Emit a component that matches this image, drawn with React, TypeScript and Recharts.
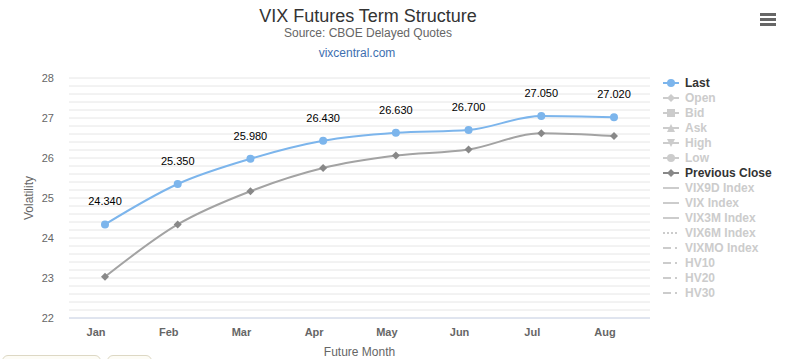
import * as React from "react";
import {
  LineChart,
  Line,
  XAxis,
  YAxis,
  CartesianGrid,
  LabelList,
  Label,
} from "recharts";

const months = ["Jan", "Feb", "Mar", "Apr", "May", "Jun", "Jul", "Aug"];
const lastValues = [24.34, 25.35, 25.98, 26.43, 26.63, 26.7, 27.05, 27.02];
const prevCloseValues = [23.03, 24.34, 25.17, 25.75, 26.06, 26.21, 26.62, 26.55];
const yTicks = [
  22, 22.2, 22.4, 22.6, 22.8, 23, 23.2, 23.4, 23.6, 23.8, 24, 24.2, 24.4, 24.6,
  24.8, 25, 25.2, 25.4, 25.6, 25.8, 26, 26.2, 26.4, 26.6, 26.8, 27, 27.2, 27.4,
  27.6, 27.8, 28,
];

type LegendItem = {
  name: string;
  active: boolean;
  symbol: "circle" | "diamond" | "square" | "triangle" | "triangleDown" | "line" | "dot" | "dashdot";
};

const legendItems: LegendItem[] = [
  { name: "Last", active: true, symbol: "circle" },
  { name: "Open", active: false, symbol: "diamond" },
  { name: "Bid", active: false, symbol: "square" },
  { name: "Ask", active: false, symbol: "triangle" },
  { name: "High", active: false, symbol: "triangleDown" },
  { name: "Low", active: false, symbol: "circle" },
  { name: "Previous Close", active: true, symbol: "diamond" },
  { name: "VIX9D Index", active: false, symbol: "line" },
  { name: "VIX Index", active: false, symbol: "line" },
  { name: "VIX3M Index", active: false, symbol: "line" },
  { name: "VIX6M Index", active: false, symbol: "dot" },
  { name: "VIXMO Index", active: false, symbol: "dashdot" },
  { name: "HV10", active: false, symbol: "dashdot" },
  { name: "HV20", active: false, symbol: "dashdot" },
  { name: "HV30", active: false, symbol: "dashdot" },
];

const chartData = months.map((month, i) => ({
  month,
  last: lastValues[i],
  prevClose: prevCloseValues[i],
}));

const FONT = '"Liberation Sans", Arial, Helvetica, sans-serif';
const LAST_COLOR = "#7cb5ec";
const PREV_LINE = "#a3a3a3";
const PREV_DOT = "#888888";

const YTick = (props: any) => {
  const { y, payload } = props;
  if (Math.abs(payload.value - Math.round(payload.value)) > 0.01) return null;
  return (
    <text x={54} y={y} dy={4} textAnchor="end" fill="#666" fontSize={11} fontFamily={FONT}>
      {Math.round(payload.value)}
    </text>
  );
};

const XTick = (props: any) => {
  const { x, y, payload } = props;
  return (
    <text x={x - 9} y={y} dy={10} textAnchor="middle" fill="#666" fontSize={11} fontWeight="bold" fontFamily={FONT}>
      {payload.value}
    </text>
  );
};

const Diamond = (props: any) => {
  const { cx, cy } = props;
  if (cx == null || cy == null) return null;
  return <path d={`M${cx} ${cy - 4}L${cx + 4} ${cy}L${cx} ${cy + 4}L${cx - 4} ${cy}Z`} fill={PREV_DOT} />;
};

function LegendSymbol({ item, color }: { item: LegendItem; color: string }) {
  const cx = 8;
  const cy = 6;
  let line: React.ReactNode = <line x1={0} x2={16} y1={cy} y2={cy} stroke={color} strokeWidth={2} />;
  if (item.symbol === "dot") {
    line = <line x1={0} x2={16} y1={cy} y2={cy} stroke={color} strokeWidth={2} strokeDasharray="2 2" />;
  } else if (item.symbol === "dashdot") {
    line = <line x1={0} x2={16} y1={cy} y2={cy} stroke={color} strokeWidth={2} strokeDasharray="8 4 2 4" />;
  }
  let marker: React.ReactNode = null;
  if (item.symbol === "circle") marker = <circle cx={cx} cy={cy} r={4} fill={color} />;
  if (item.symbol === "diamond")
    marker = <path d={`M${cx} ${cy - 4}L${cx + 4} ${cy}L${cx} ${cy + 4}L${cx - 4} ${cy}Z`} fill={color} />;
  if (item.symbol === "square") marker = <rect x={cx - 4} y={cy - 4} width={8} height={8} fill={color} />;
  if (item.symbol === "triangle")
    marker = <path d={`M${cx} ${cy - 4}L${cx + 4} ${cy + 4}L${cx - 4} ${cy + 4}Z`} fill={color} />;
  if (item.symbol === "triangleDown")
    marker = <path d={`M${cx - 4} ${cy - 4}L${cx + 4} ${cy - 4}L${cx} ${cy + 4}Z`} fill={color} />;
  return (
    <svg width={16} height={12} style={{ display: "block", marginRight: 6 }}>
      {line}
      {marker}
    </svg>
  );
}

export default function App() {
  return (
    <div
      style={{
        position: "absolute",
        left: 0,
        top: 0,
        width: 785,
        height: 359,
        overflow: "hidden",
        background: "#fff",
        fontFamily: FONT,
      }}
    >
      <div style={{ position: "absolute", left: 0, width: 736, top: 6, textAlign: "center", fontSize: 18, color: "#333" }}>
        VIX Futures Term Structure
      </div>
      <div style={{ position: "absolute", left: 0, width: 736, top: 26, textAlign: "center", fontSize: 12, color: "#666" }}>
        Source: CBOE Delayed Quotes
      </div>
      <div style={{ position: "absolute", left: 0, width: 714, top: 46, textAlign: "center", fontSize: 12, color: "#3e6fb0" }}>
        vixcentral.com
      </div>
      <svg width={20} height={20} style={{ position: "absolute", left: 758, top: 10 }}>
        <rect x={2} y={3} width={16} height={3} fill="#666" />
        <rect x={2} y={8} width={16} height={3} fill="#666" />
        <rect x={2} y={13} width={16} height={3} fill="#666" />
      </svg>

      <LineChart
        width={785}
        height={359}
        data={chartData}
        margin={{ top: 78, right: 135, bottom: 0, left: 0 }}
        style={{ position: "absolute", left: 0, top: 0 }}
      >
        <CartesianGrid vertical={false} stroke="#e6e6e6" />
        <XAxis
          dataKey="month"
          height={41}
          tickLine={false}
          axisLine={{ stroke: "#ccd6eb" }}
          tick={<XTick />}
          interval={0}
          padding={{ left: 36, right: 36 }}
        >
          <Label value="Future Month" position="insideBottom" offset={3} fill="#666" fontSize={12} fontFamily={FONT} />
        </XAxis>
        <YAxis
          width={69}
          domain={[22, 28]}
          ticks={yTicks}
          interval={0}
          tickLine={false}
          axisLine={false}
          tick={<YTick />}
        >
          <Label
            value="Volatility"
            angle={-90}
            position="center"
            dx={-6}
            fill="#666"
            fontSize={12}
            fontFamily={FONT}
          />
        </YAxis>
        <Line
          type="monotone"
          dataKey="prevClose"
          stroke={PREV_LINE}
          strokeWidth={2}
          dot={<Diamond />}
          activeDot={false}
          isAnimationActive={false}
        />
        <Line
          type="monotone"
          dataKey="last"
          stroke={LAST_COLOR}
          strokeWidth={2}
          dot={{ r: 4, fill: LAST_COLOR, stroke: "none" }}
          activeDot={false}
          isAnimationActive={false}
        >
          <LabelList
            dataKey="last"
            position="top"
            offset={19}
            fill="#000"
            fontSize={11}
            fontFamily={FONT}
            formatter={(v: any) => Number(v).toFixed(3)}
          />
        </Line>
      </LineChart>

      <div style={{ position: "absolute", left: 663, top: 75 }}>
        {legendItems.map((item) => {
          const color = item.active ? (item.name === "Last" ? LAST_COLOR : PREV_DOT) : "#cccccc";
          return (
            <div key={item.name} style={{ display: "flex", alignItems: "center", height: 15 }}>
              <LegendSymbol item={item} color={color} />
              <span
                style={{
                  fontSize: 12,
                  fontWeight: "bold",
                  color: item.active ? "#333" : "#cccccc",
                  whiteSpace: "nowrap",
                }}
              >
                {item.name}
              </span>
            </div>
          );
        })}
      </div>

      <div
        style={{
          position: "absolute",
          left: 2,
          top: 355,
          width: 97,
          height: 12,
          border: "1px solid #ddd8c4",
          borderRadius: 6,
          background: "#fdfcf6",
        }}
      />
      <div
        style={{
          position: "absolute",
          left: 107,
          top: 355,
          width: 43,
          height: 12,
          border: "1px solid #ddd8c4",
          borderRadius: 6,
          background: "#fdfcf6",
        }}
      />
    </div>
  );
}
